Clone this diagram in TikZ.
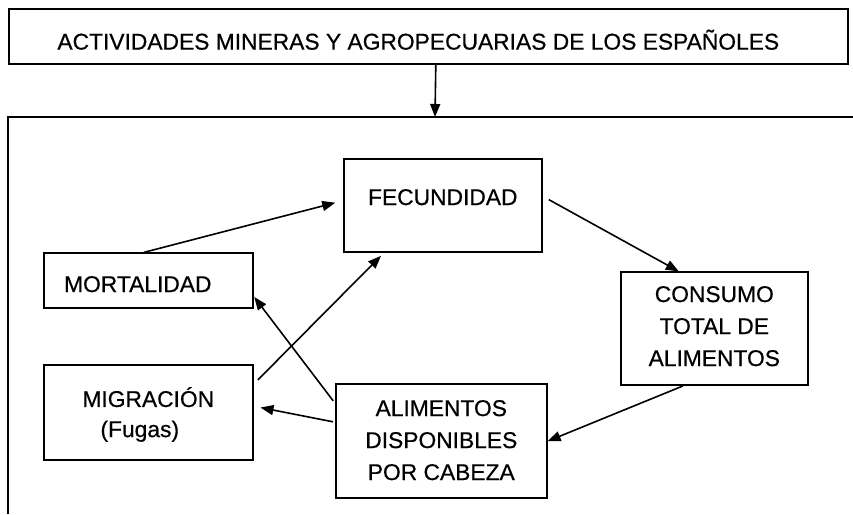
\documentclass[tikz,border=0pt]{standalone}
\usepackage{fontspec}
\setmainfont{Liberation Sans}
\newfontfamily\scanfont[FakeBold=0.5]{Liberation Sans}
\usetikzlibrary{arrows.meta,calc}
\begin{document}
\begin{tikzpicture}[x=1pt,y=1pt,
  box/.style={draw, line width=1.6pt, inner sep=0pt, anchor=south west},
  lbl/.style={font=\scanfont\fontsize{22.8}{32}\selectfont, align=center, inner sep=0pt},
  arr/.style={line width=1.6pt, -{Triangle[length=13pt,width=10pt]}}]
\useasboundingbox (0,0) rectangle (853,514);
% boxes
\node[box, minimum width=839pt, minimum height=55pt] (title) at (8,449) {};
\node[box, minimum width=198pt, minimum height=93pt] (fec) at (343,261) {};
\node[box, minimum width=209pt, minimum height=55pt] (mort) at (43,205) {};
\node[box, minimum width=187pt, minimum height=113pt] (cons) at (620,128) {};
\node[box, minimum width=209pt, minimum height=95pt] (mig) at (43,53) {};
\node[box, minimum width=211pt, minimum height=114pt] (alim) at (335,15) {};
% large open frame
\coordinate (bigbl) at (8,0);
\coordinate (bigtr) at (853,397);
\coordinate (bigin) at (435,397);
\draw[line width=1.6pt] (bigbl) |- (bigtr);
% texts
\node[lbl] (ttitle) at ([xshift=-10pt,yshift=-3pt]title.center) {ACTIVIDADES MINERAS Y AGROPECUARIAS DE LOS ESPAÑOLES};
\node[lbl] (tfec) at ([yshift=8.5pt]fec.center) {FECUNDIDAD};
\node[lbl] (tmort) at ([xshift=-10.5pt,yshift=-3.5pt]mort.center) {MORTALIDAD};
\node[lbl] (tcons) at ([yshift=2.5pt]cons.center) {CONSUMO\\TOTAL DE\\ALIMENTOS};
\node[lbl] (tmig1) at ([yshift=15.5pt]mig.center) {MIGRACIÓN};
\node[lbl] (tmig2) at ([xshift=-8.5pt,yshift=-18.5pt]mig.center) {(Fugas)};
\node[lbl] (talim) at ([yshift=1pt]alim.center) {ALIMENTOS\\DISPONIBLES\\POR CABEZA};
% connectors
\draw[arr] ([xshift=7.5pt]title.south) -- (bigin);
\draw[arr, shorten >=8pt] ([xshift=-4.5pt]mort.north) -- ([yshift=5pt]fec.west);
\draw[arr, shorten <=7pt] ([yshift=9.5pt]fec.east) -- ([xshift=-35.5pt]cons.north);
\draw[arr] ([xshift=-31.5pt]cons.south) -- (alim.east);
\draw[arr, shorten >=7pt, shorten <=2pt] ([yshift=19pt]alim.west) -- ([yshift=6.5pt]mig.east);
\draw[arr, shorten <=3pt, shorten >=1pt] ([yshift=38pt]alim.west) -- ([yshift=-15.5pt]mort.east);
\draw[arr, shorten <=6pt, shorten >=4pt] ([yshift=28.5pt]mig.east) -- ([xshift=-59pt]fec.south);
\end{tikzpicture}
\end{document}
